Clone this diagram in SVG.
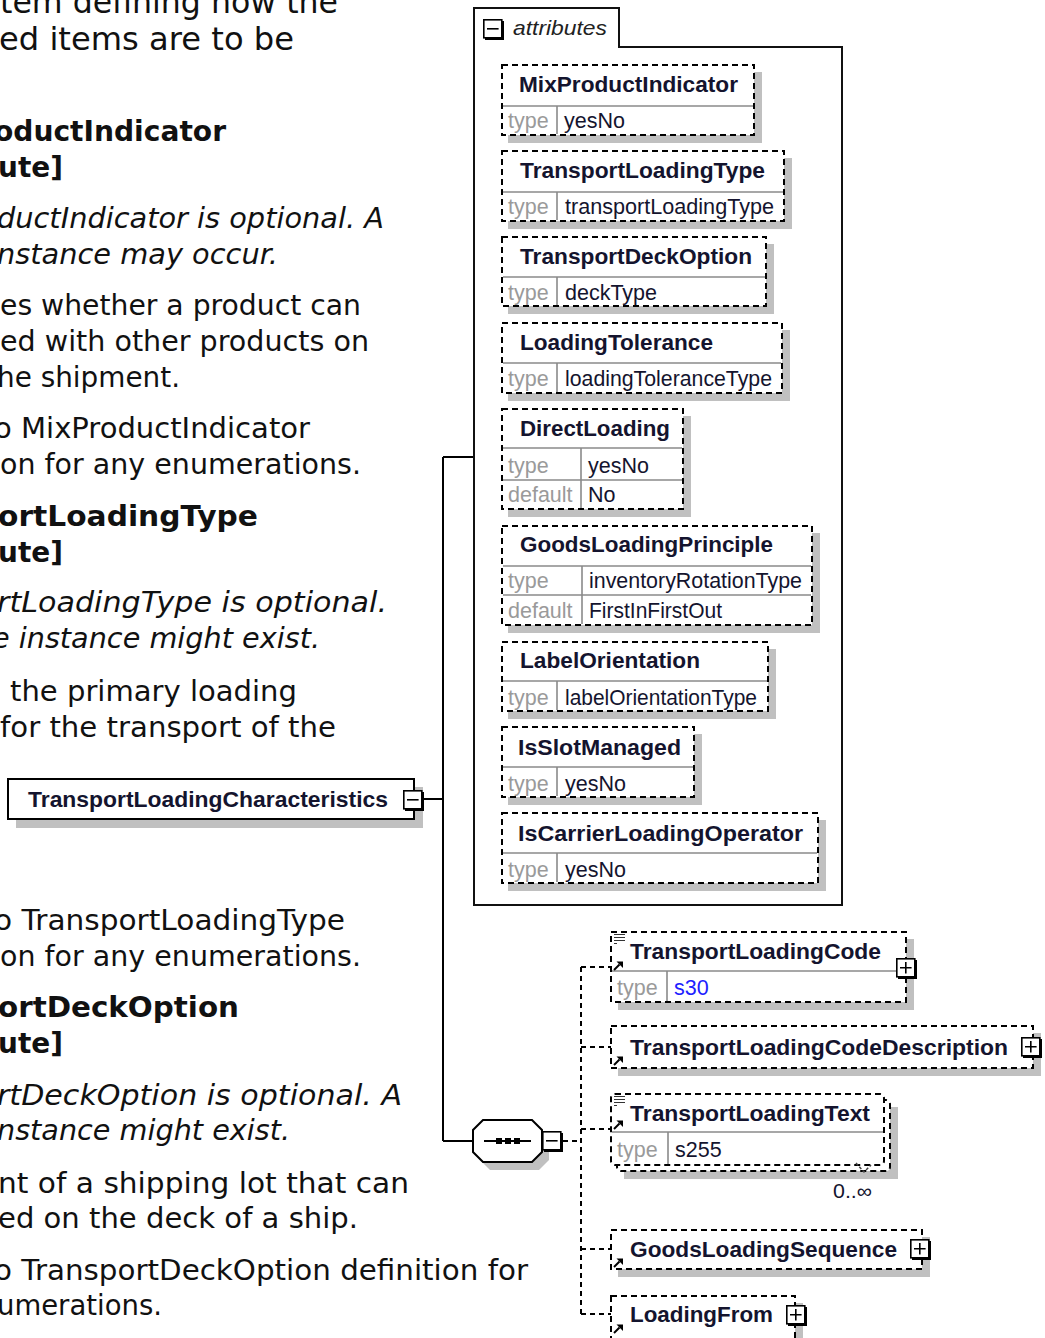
<svg xmlns="http://www.w3.org/2000/svg" xmlns:xlink="http://www.w3.org/1999/xlink" width="1045" height="1338" viewBox="0 0 1045 1338">
<style>
.t{font-family:"DejaVu Sans",Verdana,sans-serif;font-size:28.4px;fill:#111}
.big{font-size:31.5px}
.b{font-weight:bold}
.i{font-style:italic}
.sh{fill:#c0c0c0}
.bx{fill:#fff;stroke:#000;stroke-width:2;stroke-dasharray:6 4}
.dv{stroke:#8a8a8a;stroke-width:1.6}
.nm{font-family:"Liberation Sans",Arial,sans-serif;font-weight:bold;font-size:22px;fill:#14142e}
.lb{font-family:"Liberation Sans",Arial,sans-serif;font-size:21.5px;fill:#9a9a9a}
.vl{font-family:"Liberation Sans",Arial,sans-serif;font-size:21.5px;fill:#14142e}
.cn{stroke:#000;stroke-width:2;fill:none}
.dc{stroke:#000;stroke-width:2;stroke-dasharray:5 4;fill:none}
</style>
<defs>
<g id="plus"><rect x="2" y="2" width="19" height="19" fill="#000"/><rect x="0.8" y="0.8" width="18" height="18" fill="#fff" stroke="#000" stroke-width="1.6"/><path d="M4 9.8h11.6M9.8 4v11.6" stroke="#000" stroke-width="1.6"/></g>
<g id="minus"><rect x="2" y="2" width="19" height="19" fill="#000"/><rect x="0.8" y="0.8" width="18" height="18" fill="#fff" stroke="#000" stroke-width="1.6"/><path d="M4 9.8h11.6" stroke="#000" stroke-width="1.6"/></g>
<g id="ref"><path d="M1 10L6.5 4.5" stroke="#000" stroke-width="2"/><path d="M3.5 1.5H10V8Z" fill="#000"/></g>
<g id="simple"><path d="M0 .5h11M0 3.5h11M0 6.5h11M0 9.5h3" stroke="#333" stroke-width="1.2"/></g>
</defs>

<g id="description">
<text class="t big" x="0" y="13" textLength="338" lengthAdjust="spacingAndGlyphs">tem defining how the</text>
<text class="t big" x="-1" y="50" textLength="295" lengthAdjust="spacingAndGlyphs">ed items are to be</text>
<text class="t b" x="-6" y="141" textLength="232" lengthAdjust="spacingAndGlyphs">oductIndicator</text>
<text class="t b" x="-2" y="177" textLength="65" lengthAdjust="spacingAndGlyphs">ute]</text>
<text class="t i" x="-3" y="228" textLength="387" lengthAdjust="spacingAndGlyphs">ductIndicator is optional. A</text>
<text class="t i" x="-3" y="264" textLength="281" lengthAdjust="spacingAndGlyphs">nstance may occur.</text>
<text class="t" x="0" y="315" textLength="361" lengthAdjust="spacingAndGlyphs">es whether a product can</text>
<text class="t" x="0" y="351" textLength="369" lengthAdjust="spacingAndGlyphs">ed with other products on</text>
<text class="t" x="-3" y="387" textLength="183" lengthAdjust="spacingAndGlyphs">he shipment.</text>
<text class="t" x="-6" y="438" textLength="316" lengthAdjust="spacingAndGlyphs">o MixProductIndicator</text>
<text class="t" x="0" y="474" textLength="361" lengthAdjust="spacingAndGlyphs">on for any enumerations.</text>
<text class="t b" x="-2" y="526" textLength="260" lengthAdjust="spacingAndGlyphs">ortLoadingType</text>
<text class="t b" x="-2" y="562" textLength="65" lengthAdjust="spacingAndGlyphs">ute]</text>
<text class="t i" x="-3" y="612" textLength="390" lengthAdjust="spacingAndGlyphs">rtLoadingType is optional.</text>
<text class="t i" x="-8" y="648" textLength="328" lengthAdjust="spacingAndGlyphs">e instance might exist.</text>
<text class="t" x="10" y="701" textLength="287" lengthAdjust="spacingAndGlyphs">the primary loading</text>
<text class="t" x="0" y="737" textLength="336" lengthAdjust="spacingAndGlyphs">for the transport of the</text>
<text class="t" x="-6" y="930" textLength="351" lengthAdjust="spacingAndGlyphs">o TransportLoadingType</text>
<text class="t" x="0" y="966" textLength="361" lengthAdjust="spacingAndGlyphs">on for any enumerations.</text>
<text class="t b" x="-2" y="1017" textLength="241" lengthAdjust="spacingAndGlyphs">ortDeckOption</text>
<text class="t b" x="-2" y="1053" textLength="65" lengthAdjust="spacingAndGlyphs">ute]</text>
<text class="t i" x="-3" y="1105" textLength="405" lengthAdjust="spacingAndGlyphs">rtDeckOption is optional. A</text>
<text class="t i" x="-3" y="1140" textLength="293" lengthAdjust="spacingAndGlyphs">nstance might exist.</text>
<text class="t" x="-2" y="1193" textLength="411" lengthAdjust="spacingAndGlyphs">nt of a shipping lot that can</text>
<text class="t" x="-2" y="1228" textLength="360" lengthAdjust="spacingAndGlyphs">ed on the deck of a ship.</text>
<text class="t" x="-6" y="1280" textLength="534" lengthAdjust="spacingAndGlyphs">o TransportDeckOption definition for</text>
<text class="t" x="-3" y="1315" textLength="165" lengthAdjust="spacingAndGlyphs">umerations.</text>
</g>

<g id="connectors">
<path class="cn" d="M423 799H443M443 457V1141M443 457H474M443 1141H473"/>
<path class="dc" d="M563 1141H581M581 967V1314M581 967H611M581 1047H611M581 1129H611M581 1249H611M581 1314H611"/>
</g>

<g id="TransportLoadingCharacteristics">
<rect class="sh" x="16" y="787" width="407" height="41"/>
<rect x="8" y="779" width="406" height="40" fill="#fff" stroke="#000" stroke-width="2"/>
<text class="nm" x="28" y="807" textLength="360" lengthAdjust="spacingAndGlyphs">TransportLoadingCharacteristics</text>
<use xlink:href="#minus" x="403" y="790"/>
</g>

<g id="attributes">
<path d="M474 905V8H619V47H842V905Z" fill="#fff" stroke="#111" stroke-width="2"/>
<use xlink:href="#minus" x="483" y="19"/>
<text x="513" y="35" font-family="Liberation Sans,Arial,sans-serif" font-style="italic" font-size="21" fill="#222" textLength="94" lengthAdjust="spacingAndGlyphs">attributes</text>
</g>

<g id="attr-MixProductIndicator">
<rect class="sh" x="508" y="72" width="254" height="71"/>
<rect class="bx" x="502" y="65" width="252" height="70"/>
<path class="dv" d="M503 106H753M557 106V134"/>
<text class="nm" x="519" y="92" textLength="219" lengthAdjust="spacingAndGlyphs">MixProductIndicator</text>
<text class="lb" x="508" y="128">type</text>
<text class="vl" x="564" y="128">yesNo</text>
</g>

<g id="attr-TransportLoadingType">
<rect class="sh" x="508" y="158" width="284" height="71"/>
<rect class="bx" x="502" y="151" width="282" height="70"/>
<path class="dv" d="M503 192H783M557 192V220"/>
<text class="nm" x="520" y="178" textLength="245" lengthAdjust="spacingAndGlyphs">TransportLoadingType</text>
<text class="lb" x="508" y="214">type</text>
<text class="vl" x="565" y="214" textLength="209" lengthAdjust="spacingAndGlyphs">transportLoadingType</text>
</g>

<g id="attr-TransportDeckOption">
<rect class="sh" x="508" y="244" width="266" height="70"/>
<rect class="bx" x="502" y="237" width="264" height="69"/>
<path class="dv" d="M503 277H765M557 277V305"/>
<text class="nm" x="520" y="264" textLength="232" lengthAdjust="spacingAndGlyphs">TransportDeckOption</text>
<text class="lb" x="508" y="300">type</text>
<text class="vl" x="565" y="300">deckType</text>
</g>

<g id="attr-LoadingTolerance">
<rect class="sh" x="508" y="330" width="282" height="71"/>
<rect class="bx" x="502" y="323" width="280" height="70"/>
<path class="dv" d="M503 363H781M557 363V392"/>
<text class="nm" x="520" y="350" textLength="193" lengthAdjust="spacingAndGlyphs">LoadingTolerance</text>
<text class="lb" x="508" y="386">type</text>
<text class="vl" x="565" y="386" textLength="207" lengthAdjust="spacingAndGlyphs">loadingToleranceType</text>
</g>

<g id="attr-DirectLoading">
<rect class="sh" x="508" y="416" width="183" height="101"/>
<rect class="bx" x="502" y="409" width="181" height="100"/>
<path class="dv" d="M503 448H682M503 480H682M581 448V508"/>
<text class="nm" x="520" y="436" textLength="150" lengthAdjust="spacingAndGlyphs">DirectLoading</text>
<text class="lb" x="508" y="473">type</text>
<text class="vl" x="588" y="473">yesNo</text>
<text class="lb" x="508" y="502">default</text>
<text class="vl" x="588" y="502">No</text>
</g>

<g id="attr-GoodsLoadingPrinciple">
<rect class="sh" x="508" y="533" width="312" height="100"/>
<rect class="bx" x="502" y="526" width="310" height="99"/>
<path class="dv" d="M503 566H811M503 595H811M582 566V624"/>
<text class="nm" x="520" y="552" textLength="253" lengthAdjust="spacingAndGlyphs">GoodsLoadingPrinciple</text>
<text class="lb" x="508" y="588">type</text>
<text class="vl" x="589" y="588" textLength="213" lengthAdjust="spacingAndGlyphs">inventoryRotationType</text>
<text class="lb" x="508" y="618">default</text>
<text class="vl" x="589" y="618" textLength="133" lengthAdjust="spacingAndGlyphs">FirstInFirstOut</text>
</g>

<g id="attr-LabelOrientation">
<rect class="sh" x="508" y="649" width="268" height="70"/>
<rect class="bx" x="502" y="642" width="266" height="69"/>
<path class="dv" d="M503 681H767M557 681V710"/>
<text class="nm" x="520" y="668" textLength="180" lengthAdjust="spacingAndGlyphs">LabelOrientation</text>
<text class="lb" x="508" y="705">type</text>
<text class="vl" x="565" y="705" textLength="192" lengthAdjust="spacingAndGlyphs">labelOrientationType</text>
</g>

<g id="attr-IsSlotManaged">
<rect class="sh" x="508" y="734" width="194" height="71"/>
<rect class="bx" x="502" y="727" width="192" height="70"/>
<path class="dv" d="M503 767H693M557 767V796"/>
<text class="nm" x="518" y="755" textLength="163" lengthAdjust="spacingAndGlyphs">IsSlotManaged</text>
<text class="lb" x="508" y="791">type</text>
<text class="vl" x="565" y="791">yesNo</text>
</g>

<g id="attr-IsCarrierLoadingOperator">
<rect class="sh" x="508" y="820" width="318" height="71"/>
<rect class="bx" x="502" y="813" width="316" height="70"/>
<path class="dv" d="M503 853H817M557 853V882"/>
<text class="nm" x="518" y="841" textLength="285" lengthAdjust="spacingAndGlyphs">IsCarrierLoadingOperator</text>
<text class="lb" x="508" y="877">type</text>
<text class="vl" x="565" y="877">yesNo</text>
</g>

<g id="sequence">
<polygon class="sh" points="490,1128 539,1128 549,1138 549,1160 539,1170 490,1170 480,1160 480,1138"/>
<polygon points="483,1120 532,1120 542,1130 542,1152 532,1162 483,1162 473,1152 473,1130" fill="#fff" stroke="#000" stroke-width="2"/>
<path d="M484 1141H531" stroke="#000" stroke-width="2"/>
<rect x="496" y="1138" width="6" height="6" fill="#000"/>
<rect x="505" y="1138" width="6" height="6" fill="#000"/>
<rect x="514" y="1138" width="6" height="6" fill="#000"/>
<use xlink:href="#minus" x="542" y="1131"/>
</g>

<g id="TransportLoadingCode">
<rect class="sh" x="618" y="939" width="296" height="71"/>
<rect class="bx" x="611" y="932" width="295" height="70"/>
<path class="dv" d="M612 971H905M667 971V1001"/>
<use xlink:href="#simple" x="614" y="934"/>
<use xlink:href="#ref" x="613" y="960"/>
<text class="nm" x="630" y="959" textLength="251" lengthAdjust="spacingAndGlyphs">TransportLoadingCode</text>
<text class="lb" x="617" y="995">type</text>
<text class="vl" x="674" y="995" style="fill:#2020ff">s30</text>
<use xlink:href="#plus" x="896" y="958"/>
</g>

<g id="TransportLoadingCodeDescription">
<rect class="sh" x="618" y="1033" width="423" height="43"/>
<rect class="bx" x="611" y="1026" width="422" height="42"/>
<use xlink:href="#ref" x="613" y="1055"/>
<text class="nm" x="630" y="1055" textLength="378" lengthAdjust="spacingAndGlyphs">TransportLoadingCodeDescription</text>
<use xlink:href="#plus" x="1021" y="1037"/>
</g>

<g id="TransportLoadingText">
<rect class="sh" x="624" y="1107" width="274" height="72"/>
<rect class="bx" x="617" y="1100" width="273" height="71" rx="4"/>
<rect class="bx" x="611" y="1094" width="273" height="71" rx="4"/>
<path class="dv" d="M612 1132H883M668 1132V1164"/>
<use xlink:href="#simple" x="614" y="1096"/>
<use xlink:href="#ref" x="613" y="1119"/>
<text class="nm" x="630" y="1121" textLength="240" lengthAdjust="spacingAndGlyphs">TransportLoadingText</text>
<text class="lb" x="617" y="1157">type</text>
<text class="vl" x="675" y="1157">s255</text>
<path d="M856 1163L864 1172L871 1165" fill="none" stroke="#444" stroke-width="1.5" stroke-dasharray="3 2"/>
<text x="833" y="1198" font-family="Liberation Sans,Arial,sans-serif" font-size="20" fill="#14142e" textLength="39" lengthAdjust="spacingAndGlyphs">0..∞</text>
</g>

<g id="GoodsLoadingSequence">
<rect class="sh" x="618" y="1237" width="312" height="40"/>
<rect class="bx" x="611" y="1230" width="311" height="39"/>
<use xlink:href="#ref" x="613" y="1257"/>
<text class="nm" x="630" y="1257" textLength="267" lengthAdjust="spacingAndGlyphs">GoodsLoadingSequence</text>
<use xlink:href="#plus" x="910" y="1239"/>
</g>

<g id="LoadingFrom">
<rect class="sh" x="618" y="1303" width="185" height="45"/>
<rect class="bx" x="611" y="1296" width="184" height="44"/>
<use xlink:href="#ref" x="613" y="1323"/>
<text class="nm" x="630" y="1322" textLength="143" lengthAdjust="spacingAndGlyphs">LoadingFrom</text>
<use xlink:href="#plus" x="786" y="1305"/>
</g>
</svg>
